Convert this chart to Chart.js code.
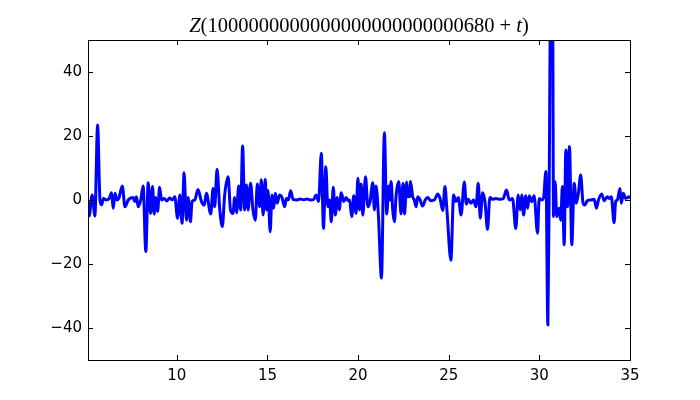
<!DOCTYPE html>
<html>
<head>
<meta charset="utf-8">
<script src="https://cdn.jsdelivr.net/npm/chart.js@4.4.0/dist/chart.umd.min.js"></script>
<style>
  body { margin: 0; background: #fff; }
</style>
</head>
<body>
<canvas id="zChart" width="700" height="400"></canvas>
<script>
// t values and Z values (local extrema + flat stretches)
const tValues = [
  5.10, 5.16, 5.33, 5.48, 5.63, 5.76, 5.85, 5.95, 6.10, 6.25, 6.40, 6.49, 6.59, 6.70, 6.80, 6.99,
  7.14, 7.32, 7.59, 7.68, 7.77, 7.87, 8.01, 8.14, 8.29, 8.42, 8.55, 8.66, 8.75, 8.84, 8.94, 9.05,
  9.16, 9.30, 9.45, 9.60, 9.75, 9.89, 10.04, 10.17, 10.29, 10.40, 10.53, 10.62, 10.75, 10.84, 10.99,
  11.17, 11.36, 11.51, 11.63, 11.87, 12.00, 12.09, 12.22, 12.37, 12.51, 12.64, 12.83, 12.96, 13.10,
  13.19, 13.30, 13.41, 13.52, 13.63, 13.74, 13.84, 13.93, 14.07, 14.20, 14.33, 14.44, 14.57, 14.66,
  14.76, 14.88, 14.95, 15.03, 15.15, 15.25, 15.34, 15.43, 15.54, 15.67, 15.80, 15.95, 16.04, 16.15,
  16.28, 16.41, 16.60, 16.80, 17.00, 17.20, 17.40, 17.55, 17.69, 17.82, 17.97, 18.09, 18.22, 18.33,
  18.43, 18.52, 18.63, 18.74, 18.85, 18.96, 19.07, 19.21, 19.34, 19.45, 19.53, 19.65, 19.76, 19.89,
  19.99, 20.08, 20.17, 20.26, 20.41, 20.54, 20.66, 20.81, 20.90, 20.99, 21.12, 21.29, 21.45, 21.58,
  21.69, 21.75, 21.82, 21.91, 22.00, 22.10, 22.24, 22.37, 22.48, 22.56, 22.68, 22.74, 22.79, 22.84,
  22.89, 23.01, 23.10, 23.20, 23.29, 23.40, 23.56, 23.70, 23.84, 24.00, 24.21, 24.39, 24.52, 24.67,
  24.79, 24.90, 25.12, 25.27, 25.40, 25.53, 25.68, 25.86, 25.97, 26.08, 26.23, 26.37, 26.50, 26.63,
  26.74, 26.87, 27.00, 27.14, 27.27, 27.42, 27.60, 27.80, 28.00, 28.19, 28.34, 28.52, 28.70, 28.83,
  28.94, 29.03, 29.13, 29.25, 29.35, 29.44, 29.57, 29.71, 29.90, 29.99, 30.12, 30.23, 30.36, 30.47,
  30.55, 30.62, 30.68, 30.74, 30.78, 30.87, 30.96, 31.09, 31.18, 31.27, 31.37, 31.46, 31.55, 31.66,
  31.79, 31.92, 32.04, 32.14, 32.28, 32.41, 32.50, 32.65, 32.83, 33.02, 33.15, 33.26, 33.44, 33.57,
  33.75, 33.85, 33.97, 34.12, 34.21, 34.30, 34.45, 34.52, 34.63, 34.76, 34.94, 35.00
];
const zValues = [
  -0.5, -5.0, 1.6, -5.0, 23.4, 0, -1.5, 0.5, 0, 0.3, 2.3, -2.6, 2.1, 0, 0.5, 4.4,
  -2.1, 0, 0.8, -0.5, 1.0, -2.1, 0, 4.4, -16.1, 5.4, -4.2, 4.2, -4.4, 0.8, -3.6, 4.0,
  0, 0.5, -0.3, 0.6, 0, 1.0, -5.7, 1.6, -7.3, 8.5, -6.3, 0.8, -6.8, -0.5, 0,
  3.3, -0.5, -1.6, 2.1, -4.4, 3.6, -2.1, 9.6, -3.1, -8.3, 1.6, 7.3, -3.1, -4.2,
  0.8, -4.0, 4.4, -3.1, 16.9, -3.1, 4.7, -3.1, 5.2, -3.1, -6.3, 5.0, -2.1, 6.3,
  -4.7, 6.5, -3.1, 3.0, -9.9, 1.6, -2.6, 2.1, -1.0, 1.6, 0.8, -2.1, 0.5, 0,
  2.9, 0.2, 0, 0.3, 0.1, 0.3, 0, 0.2, 1.6, -0.5, 14.6, -8.9, 10.4, -2.1,
  0, -6.8, 4.0, -4.7, 0.8, -3.1, 2.3, -0.5, 0.8, -0.2, 0, -5.2, 1.3, -4.2,
  6.8, -3.1, 5.0, -4.7, 7.3, -2.1, -0.5, 5.4, -3.1, 4.4, -4.7, -24.4, 21.0, -4.4,
  4.4, 0, 5.8, -3.1, -6.8, 1.6, 5.8, -4.4, 5.2, -4.4, 5.6, 1.0, 3.3, 1.0,
  5.8, 1.0, 0, -2.1, 1.0, 0.3, -1.9, 0, 0.8, -0.2, 0, 1.9, 0.5, -3.3,
  4.2, -3.1, -18.8, 1.6, -0.5, 0.8, -4.7, 5.6, -1.3, 0.2, -1.0, 0, -2.1, 5.2,
  -5.7, 2.3, -0.5, -9.2, 0.8, 0.2, 0.5, 0.2, 0.4, 3.1, 0, 0.5, -8.9, 1.6,
  -3.1, 1.6, -4.7, 1.3, -2.6, 1.3, -0.5, 1.3, -10.4, 0.5, 0, 0.6, 8.9, -39.0,
  10, 75, 90, 55, -5.2, 5.7, -5.2, -2.6, -6.3, 4.2, -14.0, 15.6, -2.1, 16.7,
  -14.0, 5.2, -1.0, 1.6, 7.8, -1.0, -1.6, -0.2, 0, 0.2, -2.6, 0, 1.9, -0.2,
  1.0, 0.5, 1.0, -7.1, -0.5, 0, 3.6, -1.0, 2.1, 0.5, 1.0, 0.5
];
const xTicks = [10, 15, 20, 25, 30, 35];
const yTicks = [-40, -20, 0, 20, 40];
const titleParts = [
  { text: "Z", italic: true },
  { text: "(1000000000000000000000000680", italic: false },
  { text: " + ", italic: false },
  { text: "t", italic: true },
  { text: ")", italic: false }
];

const points = tValues.map((t, i) => ({ x: t, y: zValues[i] }));

const fmtMinus = v => (v < 0 ? "\u2212" + Math.abs(v) : String(v));

// matplotlib-like frame: box around the axes, ticks pointing inward, math title
const frameAndTicks = {
  id: "frameAndTicks",
  afterDatasetsDraw(chart) {
    const { ctx, chartArea: a, scales } = chart;
    ctx.save();
    ctx.strokeStyle = "#000";
    ctx.lineWidth = 1;
    ctx.strokeRect(a.left + 0.5, a.top + 0.5, a.right - a.left, a.bottom - a.top);
    ctx.beginPath();
    xTicks.forEach(v => {
      const px = Math.round(scales.x.getPixelForValue(v)) + 0.5;
      ctx.moveTo(px, a.bottom); ctx.lineTo(px, a.bottom - 5);
      ctx.moveTo(px, a.top); ctx.lineTo(px, a.top + 5);
    });
    yTicks.forEach(v => {
      const py = Math.round(scales.y.getPixelForValue(v)) + 0.5;
      ctx.moveTo(a.left, py); ctx.lineTo(a.left + 5, py);
      ctx.moveTo(a.right, py); ctx.lineTo(a.right - 5, py);
    });
    ctx.stroke();

    // title
    const size = 20.5;
    const fontFor = p => (p.italic ? "italic " : "") + size + "px 'Liberation Serif', serif";
    let total = 0;
    titleParts.forEach(p => { ctx.font = fontFor(p); total += ctx.measureText(p.text).width; });
    let x = (a.left + a.right) / 2 - total / 2;
    ctx.fillStyle = "#000";
    ctx.textBaseline = "alphabetic";
    titleParts.forEach(p => {
      ctx.font = fontFor(p);
      ctx.fillText(p.text, x, 32);
      x += ctx.measureText(p.text).width;
    });
    ctx.restore();
  }
};

new Chart(document.getElementById("zChart"), {
  type: "line",
  data: {
    datasets: [{
      data: points,
      borderColor: "#0000ff",
      borderWidth: 3,
      pointRadius: 0,
      cubicInterpolationMode: "monotone",
      fill: false,
      clip: 0
    }]
  },
  options: {
    responsive: false,
    devicePixelRatio: 1,
    animation: false,
    layout: { padding: { left: 0, right: 70, top: 40, bottom: 0 } },
    plugins: { legend: { display: false }, tooltip: { enabled: false } },
    scales: {
      x: {
        type: "linear",
        min: 5.1,
        max: 35,
        afterBuildTicks: s => { s.ticks = xTicks.map(v => ({ value: v })); },
        afterFit: s => { s.height = 40; },
        grid: { display: false, drawTicks: false },
        border: { display: false },
        ticks: {
          color: "#000",
          padding: 7,
          maxRotation: 0,
          font: { family: "'DejaVu Sans', sans-serif", size: 15 },
          callback: v => fmtMinus(v)
        }
      },
      y: {
        min: -50,
        max: 50,
        afterBuildTicks: s => { s.ticks = yTicks.map(v => ({ value: v })); },
        afterFit: s => { s.width = 88; },
        grid: { display: false, drawTicks: false },
        border: { display: false },
        ticks: {
          color: "#000",
          padding: 6,
          font: { family: "'DejaVu Sans', sans-serif", size: 15 },
          callback: v => fmtMinus(v)
        }
      }
    }
  },
  plugins: [frameAndTicks]
});
</script>
</body>
</html>
